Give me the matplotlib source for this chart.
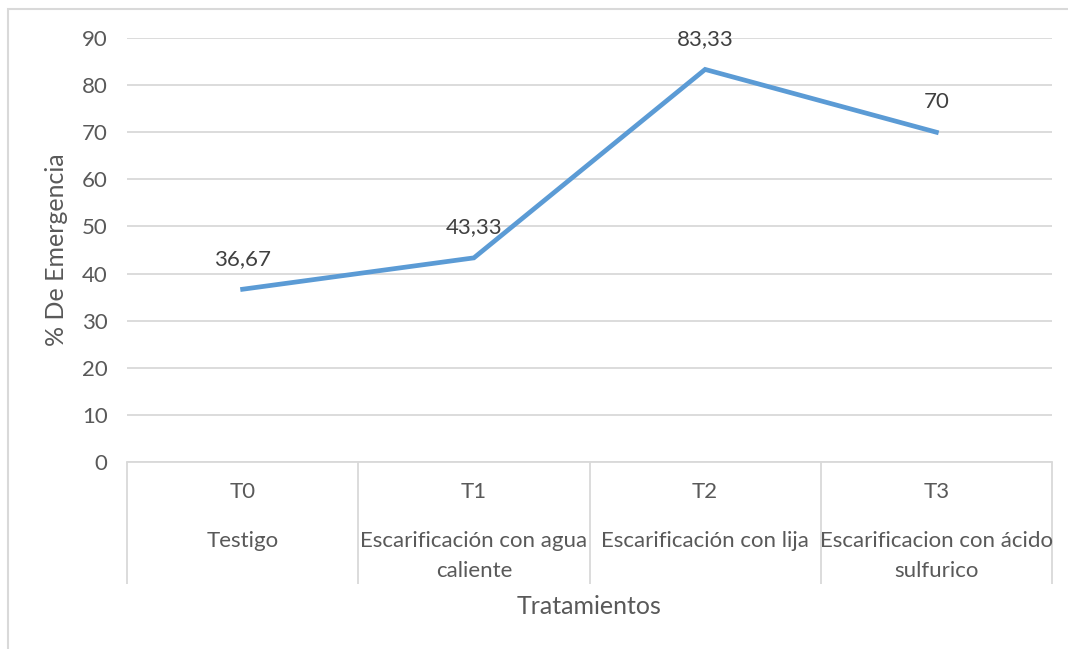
import matplotlib.pyplot as plt
from matplotlib.patches import Rectangle

codigos = ["T0", "T1", "T2", "T3"]
tratamientos = ["Testigo", "Escarificación con agua\ncaliente", "Escarificación con lija",
                "Escarificacion con ácido\nsulfurico"]
emergencia = [36.67, 43.33, 83.33, 70]

gris = "#595959"
linea = "#D9D9D9"
plt.rcParams["font.family"] = ["Lato", "DejaVu Sans"]

fig = plt.figure(figsize=(10.68, 6.49), dpi=100, facecolor="white")
ax = fig.add_axes([127/1068, 1-462/649, (1052-127)/1068, (462-38)/649])

x = range(len(emergencia))
ax.plot(x, emergencia, color="#5B9BD5", linewidth=3.4, solid_joinstyle="miter", zorder=3)
for i, v in enumerate(emergencia):
    txt = f"{v:.2f}".replace(".", ",") if v % 1 else f"{v:.0f}"
    ax.annotate(txt, (i, v), xytext=(0, 22), textcoords="offset points",
                ha="center", va="center", fontsize=16, color="#404040")

ax.set_ylim(0, 90)
ax.set_xlim(-0.5, 3.5)
ax.set_yticks(range(0, 91, 10))
ax.yaxis.grid(True, color=linea, linewidth=1.3)
ax.set_axisbelow(True)
ax.tick_params(axis="y", length=0, pad=14, labelsize=16, labelcolor=gris)
ax.set_xticks([])
for s in ["top", "right", "left"]:
    ax.spines[s].set_visible(False)
ax.spines["bottom"].set_color(linea)
ax.spines["bottom"].set_linewidth(1.3)
ax.set_ylabel("% De Emergencia", fontsize=18, color=gris, labelpad=10)

# eje de categorías en dos niveles
tr = ax.get_xaxis_transform()
ax.vlines([i - 0.5 for i in range(len(codigos) + 1)], -0.288, 0, transform=tr,
          colors=linea, linewidth=1.3, clip_on=False)
for i in range(len(codigos)):
    ax.text(i, -0.071, codigos[i], transform=tr, ha="center", va="center",
            fontsize=16, color=gris)
    ax.text(i, -0.163, tratamientos[i], transform=tr, ha="center", va="top",
            fontsize=16, color=gris, linespacing=1.62)
ax.text(0.5, -0.34, "Tratamientos", transform=ax.transAxes, ha="center", va="center",
        fontsize=18, color=gris)

fig.patches.append(Rectangle((7.5/1068, -0.1), 1.2, 1.1 - 9.5/649, transform=fig.transFigure,
                             fill=False, edgecolor=linea, linewidth=1.5))

fig.savefig("out.png", dpi=100, facecolor="white")
